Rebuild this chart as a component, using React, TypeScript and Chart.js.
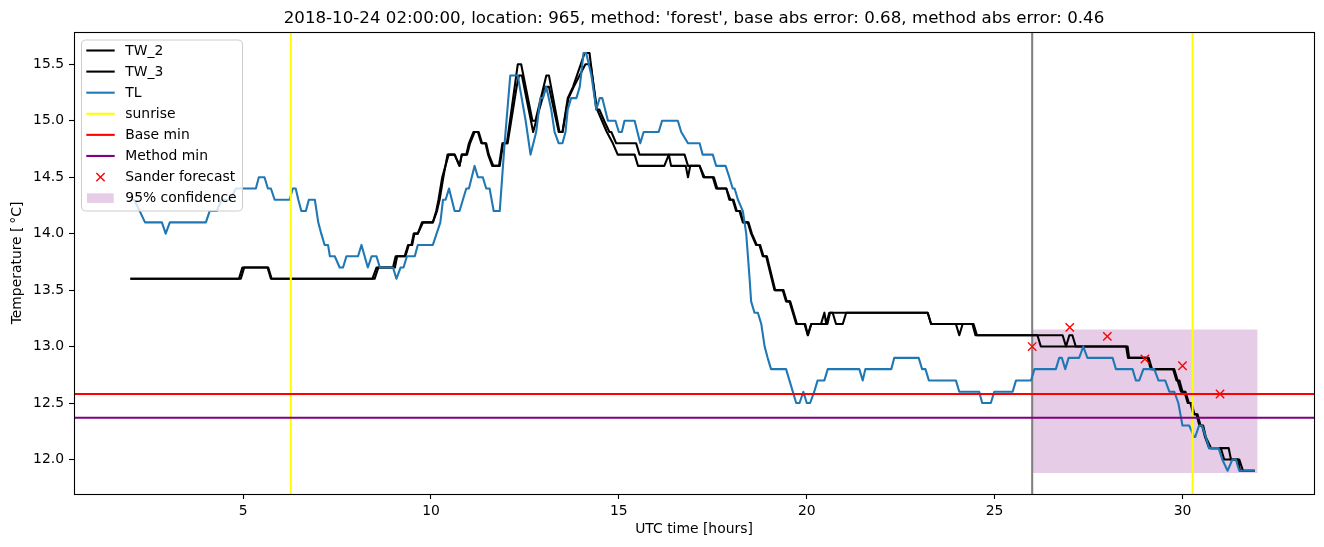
import React, { useEffect, useRef } from 'react';
import { Chart, registerables } from 'chart.js';

Chart.register(...registerables);

const W = 1324;
const H = 547;
const FONT = 'DejaVu Sans';

const titleText =
  "2018-10-24 02:00:00, location: 965, method: 'forest', base abs error: 0.68, method abs error: 0.46";

const xTicks = [5, 10, 15, 20, 25, 30];
const yTicks = [12.0, 12.5, 13.0, 13.5, 14.0, 14.5, 15.0, 15.5];
const xLimits = [0.5, 33.5];
const yLimits = [11.694, 15.786];

// [hour, temperature] vertices
const tw2Points: [number, number][] = [
  [2.0, 13.6], [4.89, 13.6], [4.98, 13.7], [5.67, 13.7], [5.76, 13.6], [8.44, 13.6], [8.55, 13.7],
  [9.04, 13.7], [9.10, 13.8], [9.30, 13.8], [9.39, 13.9], [9.48, 13.9], [9.54, 14.0], [9.65, 14.0],
  [9.79, 14.1], [10.05, 14.1], [10.14, 14.2], [10.2, 14.3], [10.3, 14.5], [10.47, 14.7], [10.63, 14.7],
  [10.76, 14.6], [10.82, 14.7], [10.94, 14.7], [11.01, 14.8], [11.13, 14.9], [11.25, 14.9], [11.34, 14.8],
  [11.45, 14.8], [11.52, 14.7], [11.63, 14.6], [11.81, 14.6], [11.90, 14.8], [12.02, 14.8], [12.31, 15.5],
  [12.40, 15.5], [12.70, 15.0], [12.78, 15.0], [13.07, 15.4], [13.14, 15.4], [13.42, 14.9], [13.50, 14.9],
  [13.64, 15.2], [13.78, 15.3], [14.09, 15.6], [14.22, 15.6], [14.40, 15.1], [14.48, 15.1], [14.61, 15.0],
  [14.75, 14.9], [14.80, 14.9], [14.93, 14.8], [15.46, 14.8], [15.55, 14.7], [16.75, 14.7], [16.84, 14.6],
  [17.15, 14.6], [17.28, 14.5], [17.50, 14.5], [17.59, 14.4], [17.86, 14.4], [17.94, 14.3], [18.03, 14.3],
  [18.12, 14.2], [18.21, 14.2], [18.30, 14.1], [18.43, 14.1], [18.52, 14.0], [18.65, 13.9], [18.74, 13.9],
  [18.83, 13.8], [18.92, 13.8], [19.14, 13.5], [19.36, 13.5], [19.45, 13.4], [19.54, 13.4], [19.72, 13.2],
  [19.94, 13.2], [20.03, 13.1], [20.12, 13.2], [20.38, 13.2], [20.47, 13.3], [20.52, 13.2], [20.60, 13.3],
  [23.22, 13.3], [23.31, 13.2], [24.41, 13.2], [24.49, 13.1], [26.81, 13.1], [26.90, 13.0], [26.99, 13.1],
  [27.07, 13.1], [27.16, 13.0], [28.54, 13.0], [28.58, 12.9], [29.07, 12.9], [29.16, 12.8], [29.78, 12.8],
  [29.87, 12.7], [29.96, 12.6], [30.05, 12.6], [30.14, 12.5], [30.21, 12.5], [30.29, 12.4], [30.37, 12.4],
  [30.45, 12.3], [30.55, 12.3], [30.62, 12.2], [30.76, 12.1], [31.02, 12.1], [31.11, 12.0], [31.51, 12.0],
  [31.61, 11.9], [31.92, 11.9],
];

const tw3Points: [number, number][] = [
  [2.0, 13.6], [4.94, 13.6], [5.03, 13.7], [5.65, 13.7], [5.74, 13.6], [8.50, 13.6], [8.60, 13.7],
  [8.99, 13.7], [9.06, 13.8], [9.32, 13.8], [9.41, 13.9], [9.50, 13.9], [9.56, 14.0], [9.65, 14.0],
  [9.76, 14.1], [10.05, 14.1], [10.16, 14.2], [10.23, 14.3], [10.33, 14.5], [10.44, 14.7], [10.63, 14.7],
  [10.76, 14.6], [10.82, 14.7], [10.96, 14.7], [11.04, 14.8], [11.16, 14.9], [11.27, 14.9], [11.36, 14.8],
  [11.47, 14.8], [11.54, 14.7], [11.66, 14.6], [11.83, 14.6], [11.92, 14.8], [12.04, 14.8], [12.28, 15.3],
  [12.34, 15.4], [12.42, 15.4], [12.72, 14.9], [12.80, 15.0], [13.05, 15.3], [13.14, 15.3], [13.40, 14.9],
  [13.50, 14.9], [13.66, 15.2], [13.80, 15.3], [14.11, 15.5], [14.25, 15.5], [14.42, 15.1], [14.55, 15.0],
  [14.68, 14.9], [14.84, 14.8], [14.97, 14.7], [15.42, 14.7], [15.51, 14.6], [16.21, 14.6], [16.33, 14.7],
  [16.39, 14.6], [16.78, 14.6], [16.84, 14.5], [16.90, 14.6], [17.15, 14.6], [17.25, 14.5], [17.53, 14.5],
  [17.62, 14.4], [17.86, 14.4], [17.97, 14.3], [18.05, 14.3], [18.14, 14.2], [18.23, 14.2], [18.32, 14.1],
  [18.45, 14.1], [18.54, 14.0], [18.67, 13.9], [18.76, 13.9], [18.85, 13.8], [18.94, 13.8], [19.16, 13.5],
  [19.38, 13.5], [19.47, 13.4], [19.56, 13.4], [19.74, 13.2], [19.96, 13.2], [20.03, 13.1], [20.12, 13.2],
  [20.55, 13.2], [20.62, 13.3], [20.69, 13.3], [20.78, 13.2], [20.96, 13.2], [21.05, 13.3], [23.22, 13.3],
  [23.31, 13.2], [23.97, 13.2], [24.06, 13.1], [24.15, 13.2], [24.44, 13.2], [24.53, 13.1], [26.14, 13.1],
  [26.23, 13.0], [28.50, 13.0], [28.55, 12.9], [29.10, 12.9], [29.19, 12.8], [29.75, 12.8], [29.84, 12.7],
  [29.92, 12.7], [30.0, 12.6], [30.08, 12.6], [30.17, 12.5], [30.24, 12.5], [30.32, 12.4], [30.40, 12.4],
  [30.48, 12.3], [30.52, 12.3], [30.60, 12.2], [30.71, 12.1], [31.23, 12.1], [31.29, 12.0], [31.48, 12.0],
  [31.53, 11.9], [31.92, 11.9],
];

const tlPoints: [number, number][] = [
  [2.0, 14.3], [2.1, 14.3], [2.25, 14.2], [2.39, 14.1], [2.84, 14.1], [2.94, 14.0], [3.05, 14.1],
  [4.01, 14.1], [4.11, 14.2], [4.3, 14.2], [4.43, 14.3], [4.65, 14.3], [4.81, 14.4], [5.34, 14.4],
  [5.42, 14.5], [5.57, 14.5], [5.66, 14.4], [5.74, 14.4], [5.84, 14.3], [6.24, 14.3], [6.32, 14.4],
  [6.40, 14.4], [6.47, 14.3], [6.55, 14.2], [6.67, 14.2], [6.75, 14.3], [6.91, 14.3], [7.0, 14.1],
  [7.08, 14.0], [7.17, 13.9], [7.26, 13.9], [7.31, 13.8], [7.44, 13.8], [7.57, 13.7], [7.66, 13.7],
  [7.75, 13.8], [8.06, 13.8], [8.15, 13.9], [8.32, 13.7], [8.42, 13.8], [8.55, 13.8], [8.64, 13.7],
  [8.99, 13.7], [9.08, 13.6], [9.19, 13.7], [9.27, 13.7], [9.36, 13.8], [9.57, 13.8], [9.65, 13.9],
  [10.05, 13.9], [10.25, 14.1], [10.32, 14.3], [10.39, 14.3], [10.48, 14.4], [10.63, 14.2], [10.76, 14.2],
  [10.85, 14.3], [10.94, 14.4], [11.01, 14.4], [11.16, 14.6], [11.25, 14.5], [11.38, 14.5], [11.47, 14.4],
  [11.56, 14.4], [11.67, 14.2], [11.83, 14.2], [11.96, 14.8], [12.11, 15.4], [12.31, 15.4], [12.52, 15.0],
  [12.65, 14.7], [12.80, 14.9], [12.91, 15.2], [12.98, 15.2], [13.07, 15.3], [13.20, 15.1], [13.29, 14.9],
  [13.40, 14.8], [13.50, 14.8], [13.58, 14.9], [13.64, 15.1], [13.73, 15.2], [13.87, 15.2], [13.96, 15.3],
  [14.06, 15.6], [14.13, 15.6], [14.27, 15.4], [14.40, 15.1], [14.49, 15.2], [14.56, 15.2], [14.71, 15.0],
  [14.91, 15.0], [15.0, 14.9], [15.08, 14.9], [15.15, 15.0], [15.42, 15.0], [15.57, 14.8], [15.66, 14.9],
  [16.06, 14.9], [16.15, 15.0], [16.57, 15.0], [16.66, 14.9], [16.84, 14.8], [17.15, 14.8], [17.23, 14.7],
  [17.50, 14.7], [17.59, 14.6], [17.84, 14.6], [17.94, 14.5], [18.03, 14.4], [18.08, 14.4], [18.17, 14.3],
  [18.30, 14.2], [18.39, 14.0], [18.48, 13.6], [18.52, 13.4], [18.61, 13.3], [18.70, 13.3], [18.79, 13.2],
  [18.88, 13.0], [18.96, 12.9], [19.05, 12.8], [19.45, 12.8], [19.54, 12.7], [19.72, 12.5], [19.81, 12.5],
  [19.91, 12.6], [20.0, 12.5], [20.09, 12.5], [20.2, 12.6], [20.29, 12.7], [20.47, 12.7], [20.56, 12.8],
  [21.40, 12.8], [21.49, 12.7], [21.56, 12.8], [22.25, 12.8], [22.33, 12.9], [22.98, 12.9], [23.07, 12.8],
  [23.16, 12.8], [23.25, 12.7], [23.97, 12.7], [24.06, 12.6], [24.59, 12.6], [24.67, 12.5], [24.90, 12.5],
  [24.99, 12.6], [25.48, 12.6], [25.57, 12.7], [25.97, 12.7], [26.06, 12.8], [26.63, 12.8], [26.72, 12.9],
  [26.79, 12.9], [26.88, 12.8], [26.97, 12.9], [27.25, 12.9], [27.36, 13.0], [27.47, 12.9], [28.14, 12.9],
  [28.23, 12.8], [28.67, 12.8], [28.76, 12.7], [28.85, 12.7], [28.96, 12.8], [29.25, 12.8], [29.36, 12.7],
  [29.54, 12.7], [29.65, 12.6], [29.78, 12.6], [29.89, 12.5], [30.0, 12.3], [30.18, 12.3], [30.31, 12.2],
  [30.34, 12.2], [30.44, 12.3], [30.52, 12.3], [30.62, 12.2], [30.71, 12.1], [30.96, 12.1], [31.06, 12.0],
  [31.2, 11.9], [31.33, 12.0], [31.42, 12.0], [31.51, 11.9], [31.92, 11.9],
];

const sunriseHours = [6.27, 30.27];
const forecastStartHour = 26;
const baseMin = 12.58;
const methodMin = 12.37;
const forecastHours = [26, 27, 28, 29, 30, 31];
const forecastTemps = [13.0, 13.17, 13.09, 12.89, 12.83, 12.58];
const confidenceHours = [26, 32];
const confidenceLow = 11.88;
const confidenceHigh = 13.15;

const toXY = (pts: [number, number][]) => pts.map(([x, y]) => ({ x, y }));

const vLines = (hours: number[]) =>
  hours.flatMap((h, i) => {
    const seg = [
      { x: h, y: yLimits[0] },
      { x: h, y: yLimits[1] },
    ];
    return i < hours.length - 1 ? [...seg, { x: h, y: null as any }] : seg;
  });

const hLine = (v: number) => [
  { x: xLimits[0], y: v },
  { x: xLimits[1], y: v },
];

const mplPlugin = {
  id: 'mplFrameLegend',
  afterDatasetsDraw(chart: any) {
    const { ctx, chartArea: a } = chart;
    ctx.save();
    // spines
    ctx.strokeStyle = '#000';
    ctx.lineWidth = 1.1;
    ctx.strokeRect(a.left + 0.5, a.top + 0.5, a.right - a.left, a.bottom - a.top);

    // legend
    const items = chart.data.datasets.filter((d: any) => d.legendKind);
    const fx = a.left + 7.5;
    const fy = a.top + 8;
    const fw = 161;
    const fh = 171;
    ctx.beginPath();
    if (ctx.roundRect) ctx.roundRect(fx, fy, fw, fh, 4);
    else ctx.rect(fx, fy, fw, fh);
    ctx.fillStyle = 'rgba(255,255,255,0.8)';
    ctx.fill();
    ctx.strokeStyle = '#cccccc';
    ctx.lineWidth = 1;
    ctx.stroke();

    ctx.font = `13.9px "${FONT}"`;
    ctx.textBaseline = 'middle';
    ctx.textAlign = 'left';
    items.forEach((d: any, i: number) => {
      const cy = a.top + 18.5 + i * 21.09;
      const hx0 = a.left + 12.3;
      const hx1 = a.left + 40.7;
      if (d.legendKind === 'line') {
        ctx.strokeStyle = d.borderColor;
        ctx.lineWidth = 2.08;
        ctx.beginPath();
        ctx.moveTo(hx0, cy);
        ctx.lineTo(hx1, cy);
        ctx.stroke();
      } else if (d.legendKind === 'marker') {
        const cx = (hx0 + hx1) / 2;
        const r = 4.15;
        ctx.strokeStyle = d.pointBorderColor;
        ctx.lineWidth = 1.4;
        ctx.beginPath();
        ctx.moveTo(cx - r, cy - r);
        ctx.lineTo(cx + r, cy + r);
        ctx.moveTo(cx - r, cy + r);
        ctx.lineTo(cx + r, cy - r);
        ctx.stroke();
      } else if (d.legendKind === 'patch') {
        ctx.fillStyle = d.backgroundColor;
        ctx.fillRect(a.left + 13, cy - 4.8, 26.7, 9.6);
      }
      ctx.fillStyle = '#000';
      ctx.fillText(d.label, a.left + 51.3, cy + 0.5);
    });
    ctx.restore();
  },
};

const tickFont = { family: FONT, size: 13.9 };

export default function App() {
  const ref = useRef<HTMLCanvasElement | null>(null);

  useEffect(() => {
    if (!ref.current) return;
    const lineBase = {
      type: 'line' as const,
      pointRadius: 0,
      pointHoverRadius: 0,
      borderWidth: 2.08,
      tension: 0,
      fill: false,
      spanGaps: false,
      borderJoinStyle: 'round' as const,
    };
    const chart = new Chart(ref.current, {
      type: 'line',
      data: {
        datasets: [
          { ...lineBase, label: 'TW_2', data: toXY(tw2Points), borderColor: '#000000', order: 8, legendKind: 'line' } as any,
          { ...lineBase, label: 'TW_3', data: toXY(tw3Points), borderColor: '#000000', order: 7, legendKind: 'line' } as any,
          { ...lineBase, label: 'TL', data: toXY(tlPoints), borderColor: '#1f77b4', order: 6, legendKind: 'line' } as any,
          { ...lineBase, label: 'sunrise', data: vLines(sunriseHours), borderColor: '#ffff00', order: 5, legendKind: 'line' } as any,
          { ...lineBase, label: 'Base min', data: hLine(baseMin), borderColor: '#ff0000', order: 4, legendKind: 'line' } as any,
          { ...lineBase, label: 'Method min', data: hLine(methodMin), borderColor: '#800080', order: 3, legendKind: 'line' } as any,
          {
            type: 'line',
            label: 'Sander forecast',
            data: forecastHours.map((x, i) => ({ x, y: forecastTemps[i] })),
            showLine: false,
            pointStyle: 'crossRot',
            pointRadius: 5.9,
            pointHoverRadius: 5.9,
            pointBorderColor: '#ff0000',
            pointBackgroundColor: '#ff0000',
            pointBorderWidth: 1.4,
            borderColor: '#ff0000',
            order: 2,
            legendKind: 'marker',
          } as any,
          {
            type: 'line',
            label: '95% confidence',
            data: confidenceHours.map((x) => ({ x, y: confidenceHigh })),
            fill: { value: confidenceLow },
            backgroundColor: 'rgba(128,0,128,0.2)',
            borderWidth: 0,
            borderColor: 'rgba(0,0,0,0)',
            pointRadius: 0,
            order: 10,
            legendKind: 'patch',
          } as any,
          { ...lineBase, label: '', data: vLines([forecastStartHour]), borderColor: '#808080', order: 9 } as any,
        ],
      },
      options: {
        animation: false,
        responsive: false,
        devicePixelRatio: 1,
        events: [],
        layout: { padding: { left: 0, right: 10, top: 0, bottom: 0 } },
        plugins: {
          legend: { display: false },
          tooltip: { enabled: false },
          title: {
            display: true,
            fullSize: false,
            text: titleText,
            color: '#000',
            font: { family: FONT, size: 16.67, weight: 'normal' as any, lineHeight: 1.2 },
            padding: { top: 9, bottom: 3 },
          },
        },
        scales: {
          x: {
            type: 'linear',
            min: xLimits[0],
            max: xLimits[1],
            afterBuildTicks: (s: any) => {
              s.ticks = xTicks.map((v) => ({ value: v }));
            },
            afterFit: (s: any) => {
              s.height = 53;
            },
            ticks: {
              color: '#000',
              font: tickFont,
              padding: 4,
              maxRotation: 0,
              autoSkip: false,
              callback: (v: any) => String(v),
            },
            grid: {
              display: true,
              drawOnChartArea: false,
              drawTicks: true,
              tickLength: 5,
              tickWidth: 1.1,
              tickColor: '#000',
            },
            border: { display: false },
            title: {
              display: true,
              text: 'UTC time [hours]',
              color: '#000',
              font: tickFont,
              padding: { top: 0, bottom: 9 },
            },
          },
          y: {
            type: 'linear',
            min: yLimits[0],
            max: yLimits[1],
            afterBuildTicks: (s: any) => {
              s.ticks = yTicks.map((v) => ({ value: v }));
            },
            afterFit: (s: any) => {
              s.width = 74;
            },
            ticks: {
              color: '#000',
              font: tickFont,
              padding: 5,
              autoSkip: false,
              callback: (v: any) => Number(v).toFixed(1),
            },
            grid: {
              display: true,
              drawOnChartArea: false,
              drawTicks: true,
              tickLength: 5,
              tickWidth: 1.1,
              tickColor: '#000',
            },
            border: { display: false },
            title: {
              display: true,
              text: 'Temperature [\u2009°C]',
              color: '#000',
              font: tickFont,
              padding: { top: 9, bottom: 0 },
            },
          },
        },
      },
      plugins: [mplPlugin],
    });
    return () => chart.destroy();
  }, []);

  return (
    <div style={{ position: 'absolute', left: 0, top: 0, width: W, height: H, background: '#fff' }}>
      <canvas ref={ref} width={W} height={H} style={{ display: 'block', width: W, height: H }} />
    </div>
  );
}
